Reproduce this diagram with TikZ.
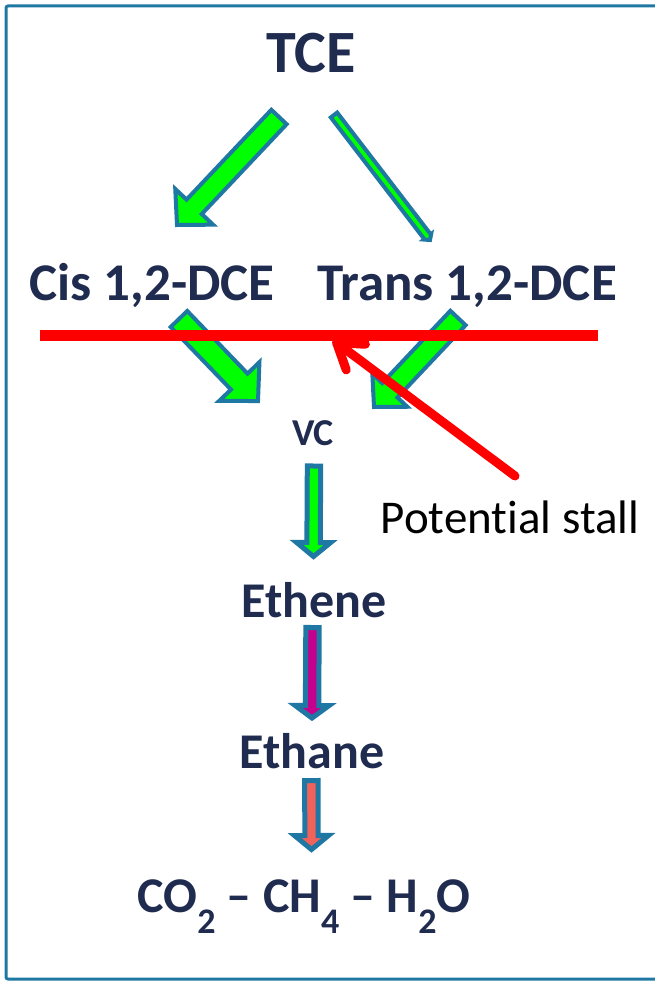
\documentclass[tikz,border=0pt]{standalone}
\usepackage{fontspec}
\setmainfont{Carlito}[Ligatures={TeX,NoCommon}]
\usepackage{xcolor}
\usetikzlibrary{calc,arrows.meta}

\definecolor{navy}{HTML}{1F2B4F}
\definecolor{edge}{HTML}{1F78A4}
\definecolor{leaf}{HTML}{00FF00}
\definecolor{plum}{HTML}{C4008F}
\definecolor{salmon}{HTML}{F0625A}

\newcommand\blockarr[6]{%
  \coordinate (neck) at ($(#3)!#6!(#2)$);
  \draw[#1] ($(#2)!#4!90:(#3)$) -- ($(neck)!#4!90:(#3)$) -- ($(neck)!#5!90:(#3)$)
    -- (#3) -- ($(neck)!#5!-90:(#3)$) -- ($(neck)!#4!-90:(#3)$)
    -- ($(#2)!#4!-90:(#3)$) -- cycle;}
\newcommand\chemsub[1]{\raisebox{-21pt}{\fontsize{36}{40}\selectfont #1}}

\begin{document}
\begin{tikzpicture}[x=1pt,y=-1pt,
  species/.style={text=navy,inner sep=0pt,anchor=base},
  big/.style={draw=edge,line width=4pt,fill=leaf,miter limit=20},
  small/.style={draw=edge,line width=5pt,miter limit=20},
  stall/.style={draw=red,line width=11pt}]
\useasboundingbox (0,0) rectangle (654,982);
\draw[edge,line width=3pt,rounded corners=2pt] (660,6) -- (6,6) -- (6,979) -- (660,979);

\node[species,font=\bfseries\fontsize{60}{72}\selectfont] (tce) at (311,73) {TCE};
\node[species,font=\bfseries\fontsize{53}{64}\selectfont] (cis) at (152,300) {Cis 1,2-DCE};
\node[species,font=\bfseries\fontsize{53}{64}\selectfont] (trans) at (467,300) {Trans 1,2-DCE};
\node[species,font=\bfseries\fontsize{38}{46}\selectfont] (vc) at (313,445) {VC};
\node[species,font=\bfseries\fontsize{50}{60}\selectfont] (ethene) at (314,617) {Ethene};
\node[species,font=\bfseries\fontsize{50}{60}\selectfont] (ethane) at (312,768) {Ethane};
\node[species,font=\bfseries\fontsize{50}{60}\selectfont] (co2) at (304,912)
  {CO\chemsub{2} -- CH\chemsub{4} -- H\chemsub{2}O};
\node[inner sep=0pt,anchor=base,font=\fontsize{47}{56}\selectfont] (pot) at (510,533) {Potential stall};

\coordinate (tceL) at (279,117);  \coordinate (cisIn) at (177,225);
\coordinate (tceR) at (334,115);  \coordinate (transIn) at (430,240);
\coordinate (cisOut) at (179,319);  \coordinate (vcL) at (258,401);
\coordinate (transOut) at (458,318);  \coordinate (vcR) at (374,407);
\coordinate (vcOut) at (314,466);  \coordinate (etheneIn) at (313.5,556.5);
\coordinate (etheneOut) at (312.5,627.5);  \coordinate (ethaneIn) at (312,718);
\coordinate (ethaneOut) at (311.4,780.5);  \coordinate (co2In) at (311.5,849.5);

\blockarr{big}{tceL}{cisIn}{10.5pt}{26pt}{25pt}
\blockarr{big}{tceR}{transIn}{4pt}{4.5pt}{4pt}
\blockarr{big}{cisOut}{vcL}{11.5pt}{28pt}{27pt}
\blockarr{big}{transOut}{vcR}{10.5pt}{24pt}{23pt}
\blockarr{small,fill=leaf}{vcOut}{etheneIn}{6.7pt}{17pt}{14pt}
\blockarr{small,fill=plum}{etheneOut}{ethaneIn}{6.7pt}{17pt}{12.5pt}
\blockarr{small,fill=salmon}{ethaneOut}{co2In}{6.7pt}{17pt}{14pt}

\coordinate (barL) at (40,335);  \coordinate (barR) at (598,335);
\coordinate (stallFoot) at (515,476);  \coordinate (stallTip) at (333,340);
\draw[stall] (barL) -- (barR);
\draw[stall,line width=9pt,line cap=round,-{Straight Barb[length=24pt,width=32pt,round]}] (stallFoot) -- (stallTip);
\end{tikzpicture}
\end{document}
